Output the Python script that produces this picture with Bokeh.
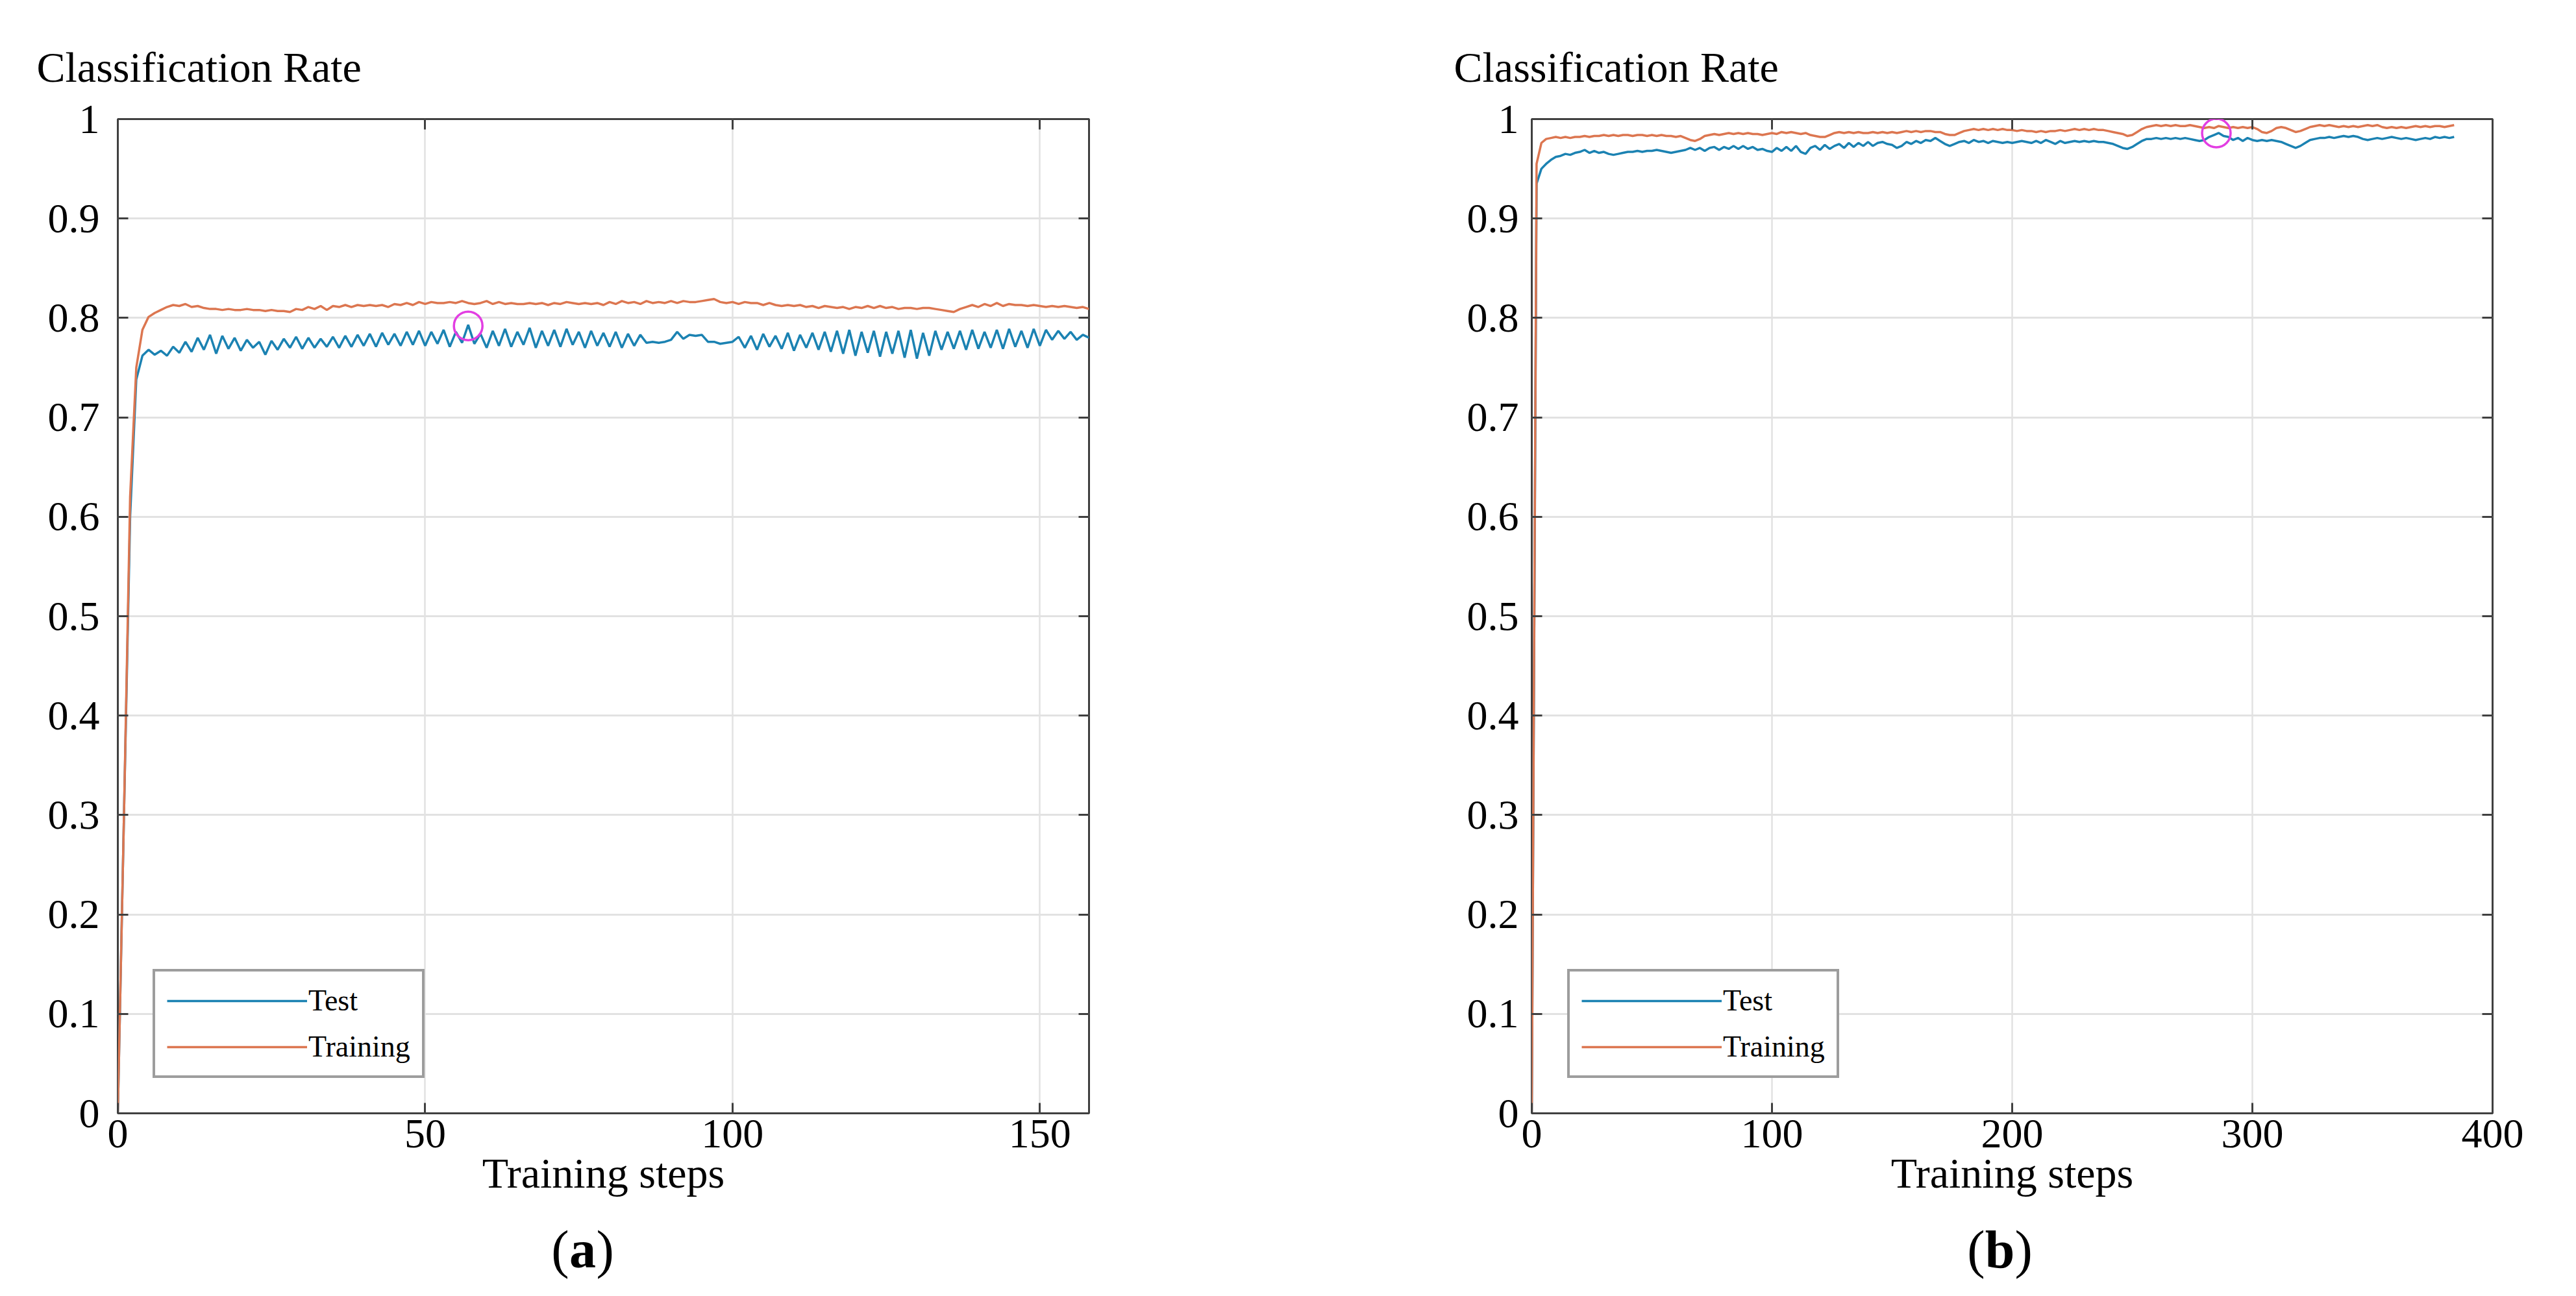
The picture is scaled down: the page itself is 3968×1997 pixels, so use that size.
from bokeh.plotting import figure
from bokeh.models import Range1d, FixedTicker, LinearAxis, Legend, LegendItem, Label
from bokeh.layouts import row, column
from bokeh.embed import file_html
from bokeh.resources import INLINE

FONT = "Liberation Serif"

# ---------------- data: panel (a) ----------------
steps_a = list(range(0, 159))
test_a = [
    0.000, 0.300, 0.600, 0.738, 0.762, 0.768, 0.763, 0.767, 0.762, 0.771,
    0.765, 0.776, 0.766, 0.780, 0.768, 0.783, 0.764, 0.782, 0.769, 0.780,
    0.767, 0.778, 0.770, 0.776, 0.763, 0.777, 0.768, 0.779, 0.770, 0.781,
    0.769, 0.780, 0.770, 0.779, 0.771, 0.781, 0.770, 0.782, 0.771, 0.783,
    0.772, 0.784, 0.771, 0.785, 0.773, 0.784, 0.772, 0.786, 0.773, 0.787,
    0.772, 0.786, 0.774, 0.788, 0.771, 0.786, 0.775, 0.793, 0.774, 0.784,
    0.770, 0.787, 0.772, 0.789, 0.771, 0.786, 0.773, 0.790, 0.770, 0.787,
    0.772, 0.788, 0.771, 0.789, 0.773, 0.786, 0.770, 0.787, 0.772, 0.785,
    0.771, 0.786, 0.770, 0.784, 0.772, 0.783, 0.775, 0.776, 0.775, 0.776,
    0.778, 0.786, 0.779, 0.783, 0.782, 0.783, 0.776, 0.776, 0.774, 0.775,
    0.776, 0.781, 0.770, 0.782, 0.768, 0.784, 0.771, 0.782, 0.769, 0.785,
    0.767, 0.783, 0.770, 0.785, 0.768, 0.786, 0.766, 0.787, 0.764, 0.788,
    0.762, 0.786, 0.765, 0.787, 0.761, 0.786, 0.764, 0.787, 0.760, 0.788,
    0.759, 0.785, 0.762, 0.787, 0.768, 0.786, 0.769, 0.787, 0.768, 0.788,
    0.769, 0.786, 0.770, 0.788, 0.769, 0.789, 0.771, 0.787, 0.770, 0.789,
    0.772, 0.788, 0.778, 0.787, 0.779, 0.786, 0.778, 0.783, 0.780,
]
train_a = [
    0.000, 0.300, 0.620, 0.750, 0.788, 0.801, 0.805, 0.808, 0.811, 0.813,
    0.812, 0.814, 0.811, 0.812, 0.810, 0.809, 0.809, 0.808, 0.809, 0.808,
    0.808, 0.809, 0.808, 0.808, 0.807, 0.808, 0.807, 0.807, 0.806, 0.809,
    0.808, 0.811, 0.809, 0.812, 0.808, 0.812, 0.811, 0.813, 0.811, 0.813,
    0.812, 0.813, 0.812, 0.813, 0.811, 0.814, 0.813, 0.815, 0.813, 0.816,
    0.814, 0.816, 0.815, 0.815, 0.816, 0.815, 0.817, 0.815, 0.814, 0.815,
    0.817, 0.814, 0.816, 0.814, 0.815, 0.814, 0.814, 0.815, 0.814, 0.815,
    0.813, 0.815, 0.814, 0.816, 0.815, 0.814, 0.815, 0.814, 0.815, 0.813,
    0.816, 0.814, 0.817, 0.815, 0.816, 0.814, 0.817, 0.815, 0.816, 0.815,
    0.817, 0.815, 0.817, 0.816, 0.816, 0.817, 0.818, 0.819, 0.816, 0.815,
    0.816, 0.814, 0.816, 0.815, 0.815, 0.813, 0.815, 0.813, 0.812, 0.813,
    0.812, 0.813, 0.811, 0.812, 0.810, 0.812, 0.811, 0.810, 0.811, 0.809,
    0.811, 0.810, 0.812, 0.810, 0.812, 0.810, 0.811, 0.809, 0.810, 0.810,
    0.809, 0.810, 0.810, 0.809, 0.808, 0.807, 0.806, 0.809, 0.811, 0.813,
    0.811, 0.814, 0.812, 0.815, 0.812, 0.814, 0.813, 0.813, 0.812, 0.813,
    0.812, 0.811, 0.812, 0.811, 0.812, 0.811, 0.810, 0.811, 0.809,
]
mark_a_x = [57]
mark_a_y = [0.792]

# ---------------- data: panel (b) ----------------
steps_b = list(range(0, 386, 2))
test_b = [
    0.000, 0.935, 0.950, 0.955, 0.959, 0.962, 0.963, 0.965, 0.964, 0.966,
    0.967, 0.969, 0.966, 0.968, 0.966, 0.967, 0.965, 0.964, 0.965, 0.966,
    0.967, 0.967, 0.968, 0.967, 0.968, 0.968, 0.969, 0.968, 0.967, 0.966,
    0.967, 0.968, 0.969, 0.971, 0.969, 0.971, 0.968, 0.971, 0.972, 0.969,
    0.972, 0.970, 0.973, 0.970, 0.973, 0.970, 0.972, 0.969, 0.970, 0.968,
    0.967, 0.971, 0.968, 0.972, 0.968, 0.973, 0.967, 0.965, 0.971, 0.973,
    0.969, 0.974, 0.970, 0.973, 0.975, 0.971, 0.976, 0.972, 0.976, 0.973,
    0.977, 0.973, 0.976, 0.977, 0.975, 0.974, 0.971, 0.973, 0.977, 0.975,
    0.978, 0.976, 0.979, 0.978, 0.981, 0.978, 0.975, 0.973, 0.975, 0.977,
    0.978, 0.976, 0.979, 0.977, 0.978, 0.976, 0.978, 0.977, 0.976, 0.977,
    0.976, 0.977, 0.978, 0.977, 0.976, 0.978, 0.976, 0.979, 0.977, 0.975,
    0.978, 0.976, 0.977, 0.978, 0.977, 0.978, 0.977, 0.978, 0.977, 0.977,
    0.976, 0.975, 0.973, 0.971, 0.970, 0.972, 0.975, 0.978, 0.980, 0.980,
    0.981, 0.980, 0.981, 0.980, 0.981, 0.980, 0.981, 0.980, 0.979, 0.978,
    0.979, 0.982, 0.984, 0.986, 0.983, 0.982, 0.979, 0.981, 0.978, 0.981,
    0.979, 0.978, 0.979, 0.978, 0.979, 0.978, 0.977, 0.975, 0.973, 0.971,
    0.973, 0.976, 0.979, 0.980, 0.981, 0.981, 0.982, 0.981, 0.982, 0.983,
    0.982, 0.983, 0.982, 0.980, 0.979, 0.980, 0.981, 0.980, 0.981, 0.982,
    0.981, 0.980, 0.981, 0.980, 0.979, 0.980, 0.981, 0.980, 0.982, 0.981,
    0.982, 0.981, 0.982,
]
train_b = [
    0.000, 0.955, 0.976, 0.980, 0.981, 0.982, 0.981, 0.982, 0.981, 0.982,
    0.982, 0.983, 0.982, 0.983, 0.983, 0.984, 0.983, 0.984, 0.983, 0.984,
    0.984, 0.983, 0.984, 0.984, 0.983, 0.984, 0.983, 0.984, 0.983, 0.983,
    0.982, 0.983, 0.981, 0.979, 0.978, 0.980, 0.983, 0.984, 0.985, 0.984,
    0.985, 0.986, 0.985, 0.986, 0.985, 0.986, 0.985, 0.985, 0.984, 0.985,
    0.986, 0.985, 0.987, 0.986, 0.987, 0.986, 0.985, 0.986, 0.984, 0.983,
    0.982, 0.982, 0.984, 0.986, 0.987, 0.986, 0.987, 0.986, 0.987, 0.986,
    0.986, 0.987, 0.986, 0.987, 0.986, 0.987, 0.986, 0.987, 0.988, 0.987,
    0.988, 0.987, 0.988, 0.988, 0.987, 0.987, 0.985, 0.984, 0.984, 0.986,
    0.988, 0.989, 0.990, 0.989, 0.990, 0.989, 0.990, 0.989, 0.990, 0.989,
    0.989, 0.988, 0.989, 0.988, 0.988, 0.987, 0.988, 0.987, 0.988, 0.988,
    0.989, 0.988, 0.989, 0.990, 0.989, 0.990, 0.989, 0.990, 0.989, 0.989,
    0.988, 0.987, 0.986, 0.985, 0.983, 0.984, 0.987, 0.990, 0.992, 0.993,
    0.994, 0.993, 0.994, 0.993, 0.994, 0.993, 0.993, 0.994, 0.993, 0.992,
    0.991, 0.992, 0.991, 0.993, 0.992, 0.991, 0.992, 0.991, 0.992, 0.991,
    0.992, 0.990, 0.987, 0.986, 0.988, 0.991, 0.992, 0.991, 0.989, 0.987,
    0.988, 0.990, 0.992, 0.993, 0.994, 0.993, 0.994, 0.993, 0.992, 0.993,
    0.992, 0.993, 0.992, 0.993, 0.994, 0.993, 0.994, 0.992, 0.991, 0.992,
    0.991, 0.992, 0.991, 0.992, 0.993, 0.992, 0.993, 0.992, 0.993, 0.993,
    0.992, 0.993, 0.994,
]
mark_b_x = [285]
mark_b_y = [0.986]

# ---------------- axes ticks / texts ----------------
y_ticks = [0, 0.1, 0.2, 0.3, 0.4, 0.5, 0.6, 0.7, 0.8, 0.9, 1]
y_labels = ["0", "0.1", "0.2", "0.3", "0.4", "0.5", "0.6", "0.7", "0.8", "0.9", "1"]
x_ticks_a = [0, 50, 100, 150]
x_ticks_b = [0, 100, 200, 300, 400]
TITLE = "Classification Rate"
XLABEL = "Training steps"

TEST_COLOR = "#1b82b2"
TRAIN_COLOR = "#dc7650"
AX_COLOR = "#404040"

PANEL_W = 1984
TITLE_H = 141
PANEL_H = 1731
CAP_H = 125


def style_axis(ax, ticks, show_labels, standoff=0):
    ax.ticker = FixedTicker(ticks=ticks)
    ax.axis_line_color = None
    ax.major_tick_in = 16
    ax.major_tick_out = 0
    ax.major_tick_line_color = AX_COLOR
    ax.major_tick_line_width = 3
    ax.minor_tick_line_color = None
    ax.major_label_text_font = FONT
    ax.major_label_text_color = "black"
    ax.major_label_text_font_size = "64px"
    ax.major_label_standoff = standoff
    if not show_labels:
        ax.major_label_overrides = {t: "" for t in ticks}


def text_fig(height):
    f = figure(width=PANEL_W, height=height, output_backend="svg", toolbar_location=None,
               x_range=Range1d(0, PANEL_W), y_range=Range1d(0, height),
               x_axis_type=None, y_axis_type=None, min_border=0)
    f.outline_line_color = None
    f.background_fill_color = "white"
    f.border_fill_color = "white"
    return f


def title_fig(x0, mid_from_top):
    f = text_fig(TITLE_H)
    f.add_layout(Label(x=x0, y=TITLE_H - mid_from_top, text=TITLE, text_font=FONT,
                       text_font_size="66px", text_color="black",
                       text_baseline="middle", text_align="left"))
    return f


def caption_fig(cx, letter, half):
    f = text_fig(CAP_H)
    cy = 72
    f.add_layout(Label(x=cx - half, y=cy, text="(", text_font=FONT,
                       text_font_size="82px", text_color="black",
                       text_baseline="middle", text_align="right"))
    f.add_layout(Label(x=cx, y=cy, text=letter, text_font=FONT,
                       text_font_size="82px", text_font_style="bold", text_color="black",
                       text_baseline="middle", text_align="center"))
    f.add_layout(Label(x=cx + half, y=cy, text=")", text_font=FONT,
                       text_font_size="82px", text_color="black",
                       text_baseline="middle", text_align="left"))
    return f


def panel(steps, test, train, mx, my, xmax, xticks, borders, ylab_standoff, legend_loc):
    left, right, top, bottom = borders
    p = figure(width=PANEL_W, height=PANEL_H, output_backend="svg", toolbar_location=None,
               x_range=Range1d(0, xmax), y_range=Range1d(0, 1),
               min_border_left=left, min_border_right=right,
               min_border_top=top, min_border_bottom=bottom)
    p.background_fill_color = "white"
    p.border_fill_color = "white"
    p.outline_line_color = AX_COLOR
    p.outline_line_width = 3

    style_axis(p.xaxis[0], xticks, True, 10)
    style_axis(p.yaxis[0], y_ticks, True, ylab_standoff)
    p.yaxis[0].major_label_overrides = {t: s for t, s in zip(y_ticks, y_labels)}
    p.xaxis[0].axis_label = XLABEL
    p.xaxis[0].axis_label_text_font = FONT
    p.xaxis[0].axis_label_text_font_size = "66px"
    p.xaxis[0].axis_label_text_font_style = "normal"
    p.xaxis[0].axis_label_text_color = "black"
    p.xaxis[0].axis_label_standoff = 0

    ax_r = LinearAxis()
    style_axis(ax_r, y_ticks, False)
    p.add_layout(ax_r, "right")
    ax_t = LinearAxis()
    style_axis(ax_t, xticks, False)
    p.add_layout(ax_t, "above")

    p.xgrid.ticker = FixedTicker(ticks=xticks)
    p.ygrid.ticker = FixedTicker(ticks=y_ticks)
    p.xgrid.grid_line_color = "#e2e2e2"
    p.ygrid.grid_line_color = "#e2e2e2"
    p.xgrid.grid_line_width = 2.5
    p.ygrid.grid_line_width = 3

    r_test = p.line(steps, test, line_color=TEST_COLOR, line_width=3.5)
    r_train = p.line(steps, train, line_color=TRAIN_COLOR, line_width=3.5)
    p.scatter(mx, my, marker="circle", size=44, fill_color=None,
              line_color="#e23ee2", line_width=3.5)

    legend = Legend(items=[LegendItem(label="Test", renderers=[r_test]),
                           LegendItem(label="Training", renderers=[r_train])],
                    location=legend_loc, margin=0, padding=18, spacing=18,
                    glyph_width=216, glyph_height=40, label_height=40,
                    label_standoff=2, label_text_font=FONT,
                    label_text_font_size="46px", label_text_color="black",
                    border_line_color="#3c3c3c", border_line_width=4,
                    background_fill_color="white", background_fill_alpha=1)
    p.add_layout(legend)
    return p


pa = panel(steps_a, test_a, train_a, mark_a_x, mark_a_y, 158, x_ticks_a,
           (181, 307, 42, 150), 28, (54, 54))
pb = panel(steps_b, test_b, train_b, mark_b_x, mark_b_y, 400, x_ticks_b,
           (375, 129, 42, 157), 20, (55, 54))

ta = title_fig(56, 103)
tb = title_fig(255, 103)
ca = caption_fig(897, "a", 21)
cb = caption_fig(1096, "b", 23)

layout = column(row(ta, tb), row(pa, pb), row(ca, cb))
open("out.html", "w").write(file_html(layout, INLINE))
